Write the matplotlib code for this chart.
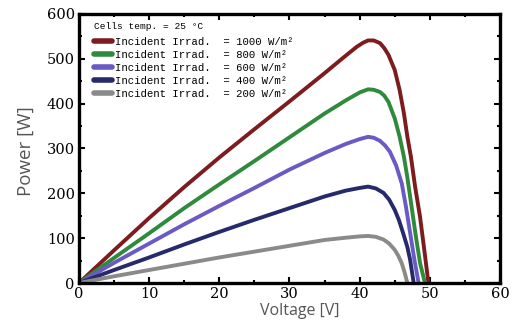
import matplotlib
matplotlib.use("Agg")
import matplotlib.pyplot as plt
from matplotlib.ticker import MultipleLocator

# ---- data ----
v_1000 = [0, 5, 10, 15, 20, 25, 30, 35, 37.7, 39.6, 40.5, 41.2, 42.0, 42.9, 43.5, 44.1, 45.0, 45.7, 46.3, 46.8, 47.3, 47.9, 48.6, 49.2, 49.8]
p_1000 = [0, 73, 145, 214, 280, 343, 405, 468, 503, 527, 536, 541, 541, 535, 524, 509, 475, 430, 379, 326, 282, 215, 148, 75, 0]

v_800 = [0, 5, 10, 15, 20, 25, 30, 35, 38.1, 40.0, 41.2, 42.0, 42.9, 43.5, 44.1, 45.0, 45.7, 46.3, 46.8, 47.4, 48.0, 48.6, 49.3]
p_800 = [0, 56, 111, 167, 220, 272, 325, 378, 408, 425, 432, 431, 426, 418, 404, 367, 326, 282, 235, 170, 105, 45, 0]

v_600 = [0, 5, 10, 15, 20, 25, 30, 35, 38, 40, 41.2, 42.0, 42.9, 43.6, 44.3, 45.2, 46.0, 46.6, 47.2, 47.8, 48.4]
p_600 = [0, 45, 88, 131, 172, 212, 253, 290, 310, 321, 326, 324, 317, 307, 293, 262, 222, 170, 111, 52, 0]

v_400 = [0, 5, 10, 15, 20, 25, 30, 35, 38, 40, 41.2, 42.3, 43.4, 44.2, 45.0, 45.6, 46.2, 46.8, 47.2, 47.7]
p_400 = [0, 29, 57, 86, 114, 141, 167, 193, 206, 212, 215, 211, 201, 186, 163, 140, 111, 80, 51, 0]

v_200 = [0, 5, 10, 15, 20, 25, 30, 35, 38, 40, 41.2, 42.3, 43.4, 44.2, 45.0, 45.5, 46.0, 46.4, 46.8]
p_200 = [0, 15, 29, 43, 57, 70, 83, 96, 101, 104, 105, 103, 97, 88, 74, 61, 44, 24, 0]

labels = ["Incident Irrad.  = 1000 W/m²",
          "Incident Irrad.  = 800 W/m²",
          "Incident Irrad.  = 600 W/m²",
          "Incident Irrad.  = 400 W/m²",
          "Incident Irrad.  = 200 W/m²"]
legend_title = "Cells temp. = 25 °C"
colors = ["#7d1c1f", "#2f8a3c", "#6a5ac4", "#262a6b", "#8a8a8a"]

series = [(v_1000, p_1000), (v_800, p_800), (v_600, p_600), (v_400, p_400), (v_200, p_200)]

fig = plt.figure(figsize=(5.21, 3.23), dpi=100)
ax = fig.add_axes([0.1516, 0.1238, 0.9597 - 0.1516, 0.9567 - 0.1238])

for (v, p), c, lab in zip(series, colors, labels):
    ax.plot(v, p, color=c, lw=2.8, label=lab, solid_capstyle="round", solid_joinstyle="round")

ax.set_xlim(0, 60)
ax.set_ylim(0, 600)
ax.xaxis.set_major_locator(MultipleLocator(10))
ax.xaxis.set_minor_locator(MultipleLocator(5))
ax.yaxis.set_major_locator(MultipleLocator(100))
ax.yaxis.set_minor_locator(MultipleLocator(50))
ax.tick_params(which="both", direction="in", top=True, right=True, width=1.5, color="black")
ax.tick_params(which="major", length=4)
ax.tick_params(which="minor", length=2.5)
ax.tick_params(which="major", labelsize=10.5, pad=3)
for lbl in ax.get_xticklabels() + ax.get_yticklabels():
    lbl.set_fontfamily("DejaVu Serif")
for s in ax.spines.values():
    s.set_linewidth(2.4)

ax.set_xlabel("Voltage [V]", fontsize=11.5, color="#555555", fontfamily="Open Sans")
ax.set_ylabel("Power [W]", fontsize=13.5, color="#555555", fontfamily="Open Sans")
ax.xaxis.set_label_coords(0.525, -0.075)
ax.yaxis.set_label_coords(-0.105, 0.49)

ax.text(0.0356, 0.952, legend_title, transform=ax.transAxes, ha="left", va="center",
        fontfamily="Liberation Mono", fontsize=6.8)

leg = ax.legend(loc="upper left", bbox_to_anchor=(0.0356, 0.915), frameon=False,
                prop={"family": "Liberation Mono", "size": 7.7},
                handlelength=1.65, handletextpad=0.28, labelspacing=0.28,
                borderpad=0, borderaxespad=0)
for h in leg.get_lines():
    h.set_linewidth(4)

fig.savefig("out.png", dpi=100)
